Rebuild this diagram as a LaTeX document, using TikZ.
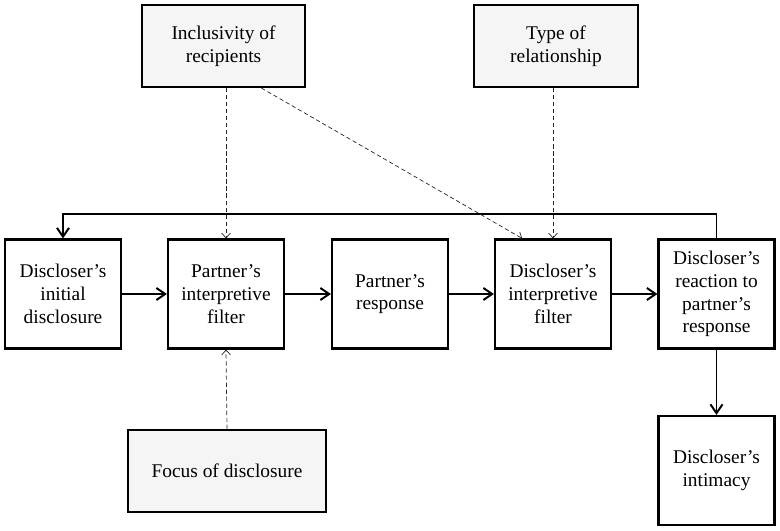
\documentclass[tikz,border=0pt]{standalone}
\usepackage{fontspec}
\setmainfont{Liberation Serif}
\usetikzlibrary{arrows.meta}

\begin{document}
\begin{tikzpicture}[
    stage/.style={draw, line width=1.5pt, align=center, minimum width=2.9cm,
      minimum height=2.725cm, inner sep=2pt, font=\fontsize{13.8}{16.2}\selectfont},
    factor/.style={stage, fill=gray!8, minimum height=2.05cm},
    flow/.style={line width=1.4pt, -{Straight Barb[length=2.2mm,width=3mm]}},
    influence/.style={densely dashed, line width=0.5pt, black!85,
      -{Straight Barb[length=1.2mm,width=2.2mm]}}
  ]
            \useasboundingbox (0,0) rectangle (19.5,-13.275);

            % moderators
            \node[factor, minimum width=4.075cm] (incl) at (5.5875,-1.15) {Inclusivity of\\recipients};
            \node[factor, minimum width=4.1cm] (type) at (13.9,-1.15) {Type of\\relationship};
            \node[factor, minimum width=4.95cm] (focus) at (5.675,-11.775) {Focus of disclosure};

            % main process
            \node[stage] (init) at (1.575,-7.35) {Discloser's\\initial\\disclosure};
            \node[stage] (pfilter) at (5.65,-7.35) {Partner's\\interpretive\\filter};
            \node[stage] (presp) at (9.75,-7.35) {Partner's\\response};
            \node[stage] (dfilter) at (13.825,-7.35) {Discloser's\\interpretive\\filter};
            \node[stage] (react) at (17.9125,-7.35) {Discloser's\\reaction to\\partner's\\response};
            \node[stage] (intim) at (17.9125,-11.7625) {Discloser's\\intimacy};

            \draw[flow] (init) -- (pfilter);
            \draw[flow] (pfilter) -- (presp);
            \draw[flow] (presp) -- (dfilter);
            \draw[flow] (dfilter) -- (react);
            \draw[flow] (react) -- (intim);
            \draw[flow] (react.north) -- ++(0,0.6) -| (init.north);

            \draw[influence] (pfilter.north |- incl.south) -- (pfilter.north);
            \draw[influence] (incl.-48) -- (dfilter.119);
            \draw[influence] (dfilter.north |- type.south) -- (dfilter.north);
            \draw[influence] (focus.north) -- (pfilter.south);
          \end{tikzpicture}
\end{document}
